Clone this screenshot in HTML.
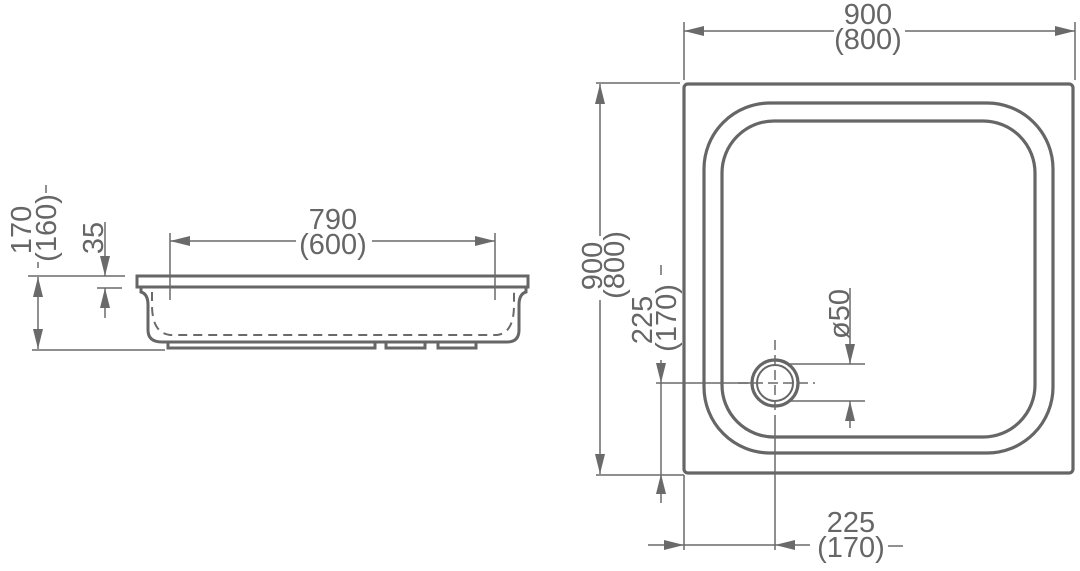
<!DOCTYPE html>
<html><head><meta charset="utf-8"><style>html,body{margin:0;padding:0;background:#fff}svg{display:block}</style></head>
<body>
<svg width="1080" height="571" viewBox="0 0 1080 571" xmlns="http://www.w3.org/2000/svg">
<defs>
<marker id="a" viewBox="0 0 20 10" refX="20" refY="5" markerWidth="20" markerHeight="10" markerUnits="userSpaceOnUse" orient="auto"><path d="M0,0 L20,5 L0,10 z" fill="#6a6a6a"/></marker>
</defs>
<g fill="none" stroke="#666" stroke-width="3.2">
<rect x="684" y="84" width="389" height="389" rx="4"/>
<rect x="704" y="103" width="349" height="350" rx="66"/>
<rect x="722" y="121" width="313" height="316" rx="52"/>
<circle cx="775" cy="383" r="23"/>
<circle cx="775" cy="383" r="18" stroke-width="2"/>
<path d="M137,276 H528 V287 H137 Z" stroke-width="3"/>
<path d="M141,287 V292 Q148,294 148,305 V330 Q148,342 162,342 H507 Q519,342 519,330 V305 Q519,294 526,292 V287" stroke-width="3"/>
<path d="M168,342 V348 H375 V342 M386,342 V348 H425 V342 M438,342 V348 H476 V342" stroke-width="3"/>
</g>
<g fill="none" stroke="#6a6a6a" stroke-width="2" stroke-dasharray="9,6">
<path d="M152,292 V305 Q152,333 170,335 H497 Q514,333 514,305 V292"/>
</g>
<g fill="none" stroke="#6a6a6a" stroke-width="1.5">
<path d="M684,22 V80 M1075,22 V80"/>
<path d="M834,31 H684" marker-end="url(#a)"/><path d="M905,31 H1075" marker-end="url(#a)"/>
<path d="M596,83 H680 M596,475 H684"/>
<path d="M600,236 V84" marker-end="url(#a)"/><path d="M600,300 V474" marker-end="url(#a)"/>
<path d="M656,383 H752"/>
<path d="M661,360 V383" marker-end="url(#a)"/><path d="M661,503 V474" marker-end="url(#a)"/>
<path d="M661,383 V474"/>
<path d="M790,364 H865 M790,401 H865"/>
<path d="M850,288 V364" marker-end="url(#a)"/><path d="M850,428 V401" marker-end="url(#a)"/>
<path d="M738,383 H815 M775,340 V420" stroke-dasharray="10,5"/>
<path d="M775,420 V550 M684,475 V550"/>
<path d="M648,545 H684" marker-end="url(#a)"/><path d="M810,545 H775" marker-end="url(#a)"/>
<path d="M684,545 H775"/>
<path d="M888,546 H903"/>
<path d="M170,233 V300 M495,233 V300"/>
<path d="M296,241 H170" marker-end="url(#a)"/><path d="M372,241 H495" marker-end="url(#a)"/>
<path d="M28,276 H125 M32,350 H165"/>
<path d="M38,313 V277" marker-end="url(#a)"/><path d="M38,313 V349" marker-end="url(#a)"/>
<path d="M38,268 V262"/>
<path d="M46,185 V193"/>
<path d="M97,288 H122"/>
<path d="M105,222 V276" marker-end="url(#a)"/><path d="M105,318 V288" marker-end="url(#a)"/>
<path d="M661,265 V275"/>
</g>
<g font-family="'Liberation Sans', sans-serif" font-size="29" fill="#666" text-anchor="middle">
<text x="868" y="24">900</text>
<text x="868" y="49">(800)</text>
<text x="333" y="229">790</text>
<text x="333" y="254">(600)</text>
<text x="851" y="532">225</text>
<text x="851" y="557">(170)</text>
<text transform="translate(31,230) rotate(-90)">170</text>
<text transform="translate(56,228) rotate(-90)">(160)</text>
<text transform="translate(103,238) rotate(-90)">35</text>
<text transform="translate(602,266) rotate(-90)">900</text>
<text transform="translate(624,265) rotate(-90)">(800)</text>
<text transform="translate(652,320) rotate(-90)">225</text>
<text transform="translate(676,318) rotate(-90)">(170)</text>
<text transform="translate(849,314) rotate(-90)">ø50</text>
</g>
</svg>
</body></html>
